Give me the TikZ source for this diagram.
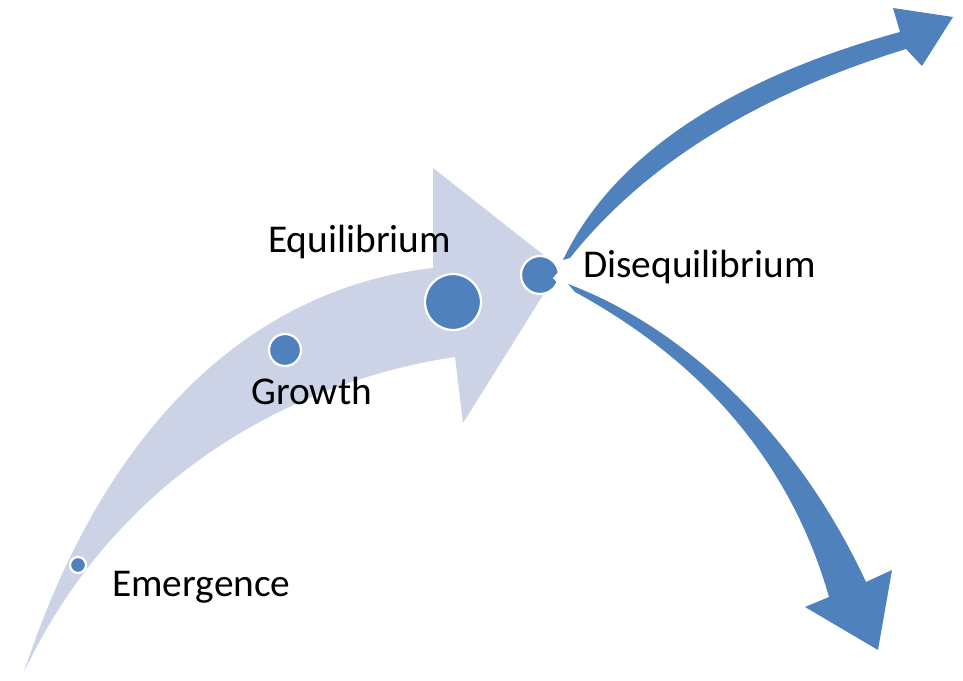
\documentclass[tikz,border=0pt]{standalone}
\usepackage{fontspec}
\setmainfont{Carlito}
\usepackage{tikz}

\definecolor{stageblue}{RGB}{79,129,189}
\definecolor{pathgrey}{RGB}{204,211,230}

\begin{document}
\begin{tikzpicture}[
    x = 0.025cm,
    y = -0.025cm,
    %
    stage/.style = {circle, fill = stageblue,
      draw = white,
      line width = 1.6pt,
      inner sep = 0pt},
    %
    phase/.style = {anchor = base west,
      inner sep = 0pt,
      font = \fontsize{28}{32}\selectfont},
    %
    trend/.style = {fill = stageblue},
    ]

    \useasboundingbox (0, 0) rectangle (963, 681);

    % the main life cycle arrow
    \fill [pathgrey] (24, 672)
    .. controls (100, 440) and (240, 290) .. (433, 268)
    -- (433, 168) -- (560, 268) -- (463, 423) -- (455, 357)
    .. controls (300, 380) and (120, 470) .. (24, 672) -- cycle;

    % two ways out of disequilibrium
    \fill [trend] (563, 260)
    .. controls (620, 140) and (760, 70) .. (900, 32)
    -- (893, 8) -- (953, 17) -- (922, 66) -- (906, 49)
    .. controls (790, 85) and (660, 145) .. (570, 258) -- cycle;

    \fill [trend] (568, 284)
    .. controls (690, 330) and (800, 440) .. (866, 582)
    -- (892, 570) -- (878, 650) -- (805, 607) -- (829, 597)
    .. controls (790, 460) and (700, 360) .. (575, 292) -- cycle;

    \node at (78, 565)
    [stage, minimum size = 0.4cm, name = emergence_dot] {};
    \node at (285, 350)
    [stage, minimum size = 0.8cm, name = growth_dot] {};
    \node at (453, 302)
    [stage, minimum size = 1.4cm, name = equilibrium_dot] {};
    \node at (540, 275)
    [stage, minimum size = 0.95cm, name = disequilibrium_dot] {};

    \fill [white] (553, 278) -- (561, 269) -- (561, 287) -- cycle;

    \node at (112, 597) [phase, name = emergence] {Emergence};
    \node at (251, 405) [phase, name = growth] {Growth};
    \node at (268, 253) [phase, name = equilibrium] {Equilibrium};
    \node at (583, 278) [phase, name = disequilibrium] {Disequilibrium};

  \end{tikzpicture}
\end{document}
